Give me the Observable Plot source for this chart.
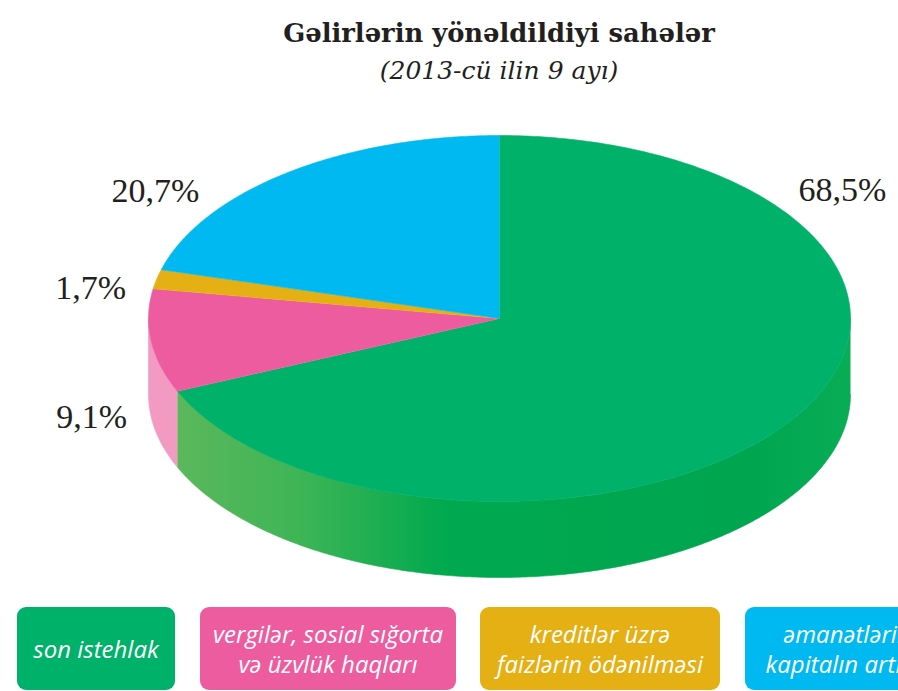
<!DOCTYPE html>
<html><head><meta charset="utf-8">
<script src="https://cdn.jsdelivr.net/npm/d3@7"></script>
<script src="https://cdn.jsdelivr.net/npm/@observablehq/plot@0.6"></script>
<style>
html,body{margin:0;padding:0;background:#fff;width:898px;height:691px;overflow:hidden;position:relative}
.title{position:absolute;left:499px;top:18px;transform:translateX(-50%);white-space:nowrap;font-family:"DejaVu Serif";font-weight:bold;font-size:25.8px;color:#231f20}
.sub{position:absolute;left:499px;top:56px;transform:translateX(-50%);white-space:nowrap;font-family:"DejaVu Serif";font-style:italic;font-size:25px;color:#231f20}
#chart{position:absolute;left:0;top:100px}
.box{position:absolute;top:607px;height:83px;border-radius:9px;color:#fff;font-family:"Open Sans";font-style:italic;font-size:24px;display:flex;flex-direction:column;justify-content:center;align-items:center;line-height:30px;white-space:nowrap;overflow:visible}
</style></head>
<body>
<div class="title">Gəlirlərin yönəldildiyi sahələr</div>
<div class="sub">(2013-cü ilin 9 ayı)</div>
<div id="chart"></div>
<div id="legend"></div>
<script>
// ---- data ----
const categories = ["son istehlak", "vergilər, sosial sığorta və üzvlük haqları", "kreditlər üzrə faizlərin ödənilməsi", "əmanətlərin kapitalın artımı"];
const shares = [68.5, 9.1, 1.7, 20.7];
const shareLabels = ["68,5%", "9,1%", "1,7%", "20,7%"];
const legendLine1 = ["son istehlak", "vergilər, sosial sığorta", "kreditlər üzrə", "əmanətlərin"];
const legendLine2 = ["", "və üzvlük haqları", "faizlərin ödənilməsi", "kapitalın artımı"];

// ---- style / layout ----
const topColors = ["#00b16a", "#ee5ca0", "#e5b013", "#00b9f1"];
const wallColors = ["url(#greenWall)", "#f39ac3", "#e0a910", "#00a8dc"];
const W = 898, H = 500;
const cx = 499, cy = 218, rx = 351, ry = 183, depthPx = 76;
const depth = depthPx / ry; // in unit-circle y units
const labelAnchors = [[0.977, -0.70], [-1.162, 0.541], [-1.165, -0.164], [-0.98, -0.694]];
const legendLeft = [17, 200, 480, 745];
const legendWidth = [158, 256, 240, 204];

// ---- geometry from data ----
const arcs = d3.pie().sort(null).startAngle(0).endAngle(2 * Math.PI)(shares);
function arcPts(a0, a1, dy) {
  const n = Math.max(2, Math.ceil((a1 - a0) / 0.01));
  return d3.range(n + 1).map(i => {
    const a = a0 + (a1 - a0) * i / n;
    return {x: Math.sin(a), y: -Math.cos(a) + dy};
  });
}
const tops = arcs.map(a => [{x: 0, y: 0}, ...arcPts(a.startAngle, a.endAngle, 0)]);
const walls = [];
arcs.forEach((a, i) => {
  const s = Math.max(a.startAngle, Math.PI / 2), e = Math.min(a.endAngle, 3 * Math.PI / 2);
  if (e > s) walls.push({i, pts: [...arcPts(s, e, 0), ...arcPts(s, e, depth).reverse()]});
});
const labels = shareLabels.map((t, i) => ({t, x: labelAnchors[i][0], y: labelAnchors[i][1]}));

const marks = [];
walls.forEach(w => marks.push(Plot.line(w.pts, {x: "x", y: "y", fill: wallColors[w.i], stroke: wallColors[w.i], strokeWidth: 0.6, curve: "linear"})));
tops.forEach((p, i) => marks.push(Plot.line(p, {x: "x", y: "y", fill: topColors[i], stroke: topColors[i], strokeWidth: 0.6, curve: "linear"})));
marks.push(Plot.text(labels, {x: "x", y: "y", text: "t", fontFamily: "Liberation Serif", fontSize: 34, fill: "#231f20", textAnchor: "middle"}));

const chart = Plot.plot({
  width: W, height: H, margin: 0,
  x: {type: "linear", domain: [-1, 1], range: [cx - rx, cx + rx], axis: null},
  y: {type: "linear", domain: [-1, 1], range: [cy - ry, cy + ry], axis: null},
  style: {background: "transparent", overflow: "visible"},
  marks
});
const svg = d3.select(chart);
const defs = svg.insert("defs", ":first-child");
const g = defs.append("linearGradient").attr("id", "greenWall").attr("gradientUnits", "userSpaceOnUse")
  .attr("x1", 175).attr("x2", 850).attr("y1", 0).attr("y2", 0);
[[0, "#5bb85c"], [0.18, "#3fb556"], [0.4, "#00a94f"], [0.85, "#00a550"], [1, "#08ad56"]].forEach(([o, c]) =>
  g.append("stop").attr("offset", o).attr("stop-color", c));
document.getElementById("chart").appendChild(chart);

const legend = document.getElementById("legend");
categories.forEach((c, i) => {
  const b = document.createElement("div");
  b.className = "box";
  b.style.left = legendLeft[i] + "px";
  b.style.width = legendWidth[i] + "px";
  b.style.background = topColors[i];
  b.title = c;
  [legendLine1[i], legendLine2[i]].filter(Boolean).forEach(t => {
    const s = document.createElement("div"); s.textContent = t; b.appendChild(s);
  });
  legend.appendChild(b);
});
</script>
</body></html>
